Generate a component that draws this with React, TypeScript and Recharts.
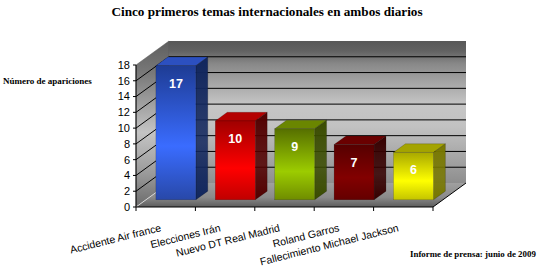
import React from 'react';
import { BarChart, Bar, XAxis, YAxis, ReferenceArea, LabelList } from 'recharts';

const categories = [
  'Accidente Air france',
  'Elecciones Irán',
  'Nuevo DT Real Madrid',
  'Roland Garros',
  'Fallecimiento Michael Jackson',
];
const values = [17, 10, 9, 7, 6];
const yTicks = [0, 2, 4, 6, 8, 10, 12, 14, 16, 18];
const titleText = 'Cinco primeros temas internacionales en ambos diarios';
const yAxisTitle = 'Número de apariciones';
const noteText = 'Informe de prensa: junio de 2009';

// [dark, bright, bottom, side, top]
const barColors = [
  ['#1e3c94', '#3a6cff', '#2848a8', '#12275e', '#2c50c0'],
  ['#a00000', '#ff0000', '#c00000', '#520000', '#b40000'],
  ['#566f00', '#9ccc00', '#6f8c00', '#3a4c00', '#6a8600'],
  ['#560000', '#820000', '#640000', '#360000', '#6a0000'],
  ['#a8a800', '#ffff00', '#c4c400', '#787800', '#a4a400'],
];

const data = categories.map((name, i) => ({ name, value: values[i] }));

const DX = 33;
const DY = 24;
const F0 = 0.3;
const F1 = 0.66;
const SANS = '"Liberation Sans", Arial, sans-serif';
const SERIF = '"Liberation Serif", "Times New Roman", serif';

const WallShape = (props: any) => {
  const { x, y, width: w, height: h } = props;
  const maxV = yTicks[yTicks.length - 1];
  const n = categories.length;
  const grid = yTicks.slice(1, -1).map((t) => y + h - (t / maxV) * h);
  return (
    <g>
      <defs>
        <linearGradient id="backG" x1="0" y1="0" x2="0" y2="1">
          <stop offset="0" stopColor="#585858" />
          <stop offset="0.07" stopColor="#626262" />
          <stop offset="0.16" stopColor="#888" />
          <stop offset="0.45" stopColor="#c6c6c6" />
          <stop offset="0.6" stopColor="#c2c2c2" />
          <stop offset="1" stopColor="#8e8e8e" />
        </linearGradient>
        <linearGradient id="leftG" x1="0" y1="0" x2="0" y2="1">
          <stop offset="0" stopColor="#5e5e5e" />
          <stop offset="0.2" stopColor="#7a7a7a" />
          <stop offset="0.55" stopColor="#c4c4c4" />
          <stop offset="0.8" stopColor="#9a9a9a" />
          <stop offset="1" stopColor="#6a6a6a" />
        </linearGradient>
        <linearGradient id="floorG" x1="0" y1="0" x2="0" y2="1">
          <stop offset="0" stopColor="#a0a0a0" />
          <stop offset="0.6" stopColor="#8a8a8a" />
          <stop offset="1" stopColor="#5c5c5c" />
        </linearGradient>
      </defs>
      <polygon
        points={`${x},${y + h} ${x},${y} ${x + DX},${y - DY} ${x + DX},${y + h - DY}`}
        fill="url(#leftG)"
        stroke="#555"
        strokeWidth={0.5}
      />
      <rect x={x + DX} y={y - DY} width={w} height={h} fill="url(#backG)" />
      {grid.map((gy, i) => (
        <g key={i}>
          <line x1={x + DX} x2={x + DX + w} y1={gy - DY} y2={gy - DY} stroke="#000" strokeWidth={1} />
          <line x1={x} x2={x + DX} y1={gy} y2={gy - DY} stroke="#000" strokeWidth={1} />
        </g>
      ))}
      <polygon
        points={`${x},${y + h} ${x + w},${y + h} ${x + w + DX},${y + h - DY} ${x + DX},${y + h - DY}`}
        fill="url(#floorG)"
      />
      <line x1={x} y1={y + h} x2={x + DX} y2={y + h - DY} stroke="#d8d8d8" strokeWidth={1} />
      <line x1={x + w} y1={y + h} x2={x + w + DX} y2={y + h - DY} stroke="#000" strokeWidth={1} />
      {Array.from({ length: n + 1 }, (_, i) => (
        <line key={i} x1={x + (i * w) / n} x2={x + (i * w) / n} y1={y + h} y2={y + h + 4} stroke="#000" strokeWidth={1} />
      ))}
    </g>
  );
};

const Bar3D = (props: any) => {
  const { x, y, width: w, height: h, index } = props;
  const c = barColors[index % barColors.length];
  const fx = x + F0 * DX;
  const fy = y - F0 * DY;
  const bdx = (F1 - F0) * DX;
  const bdy = (F1 - F0) * DY;
  const gid = `barF${index}`;
  const sid = `barS${index}`;
  return (
    <g>
      <defs>
        <linearGradient id={gid} x1="0" y1="0" x2="0" y2="1">
          <stop offset="0" stopColor={c[0]} />
          <stop offset="0.6" stopColor={c[1]} />
          <stop offset="1" stopColor={c[2]} />
        </linearGradient>
        <linearGradient id={sid} x1="0" y1="0" x2="0" y2="1">
          <stop offset="0" stopColor={c[3]} />
          <stop offset="0.6" stopColor={c[3]} stopOpacity={0.85} />
          <stop offset="1" stopColor={c[3]} />
        </linearGradient>
      </defs>
      <polygon
        points={`${fx},${fy} ${fx + w},${fy} ${fx + w + bdx},${fy - bdy} ${fx + bdx},${fy - bdy}`}
        fill={c[4]}
        stroke="rgba(0,0,0,0.35)"
        strokeWidth={0.5}
      />
      <polygon
        points={`${fx + w},${fy} ${fx + w + bdx},${fy - bdy} ${fx + w + bdx},${fy + h - bdy} ${fx + w},${fy + h}`}
        fill={`url(#${sid})`}
        stroke="rgba(0,0,0,0.35)"
        strokeWidth={0.5}
      />
      <rect x={fx} y={fy} width={w} height={h} fill={`url(#${gid})`} stroke="rgba(0,0,0,0.3)" strokeWidth={0.5} />
    </g>
  );
};

const ValueLabel = (props: any) => {
  const vb = props.viewBox || props;
  const { x, y, width: w } = vb;
  return (
    <text
      x={x + w / 2 + F0 * DX}
      y={y - F0 * DY + 22}
      textAnchor="middle"
      fill="#fff"
      fontFamily={SANS}
      fontWeight="bold"
      fontSize={12.5}
    >
      {props.value}
    </text>
  );
};

const XTick = (props: any) => {
  const { x, y, payload } = props;
  return (
    <g transform={`translate(${x - 4},${y + 24}) rotate(-14)`}>
      <text textAnchor="end" fill="#000" fontFamily={SANS} fontSize={10.5}>
        {payload.value}
      </text>
    </g>
  );
};

export default function App() {
  return (
    <div style={{ position: 'absolute', left: 0, top: 0, width: 557, height: 272, background: '#fff' }}>
      <BarChart
        width={557}
        height={272}
        data={data}
        margin={{ top: 65, right: 124, bottom: 35, left: 96 }}
      >
        <XAxis
          dataKey="name"
          interval={0}
          height={30}
          tickLine={false}
          tickSize={0}
          tickMargin={0}
          axisLine={{ stroke: '#000' }}
          tick={<XTick />}
        />
        <YAxis
          domain={[0, 18]}
          ticks={yTicks}
          interval={0}
          width={40}
          tickSize={3}
          tickMargin={3}
          axisLine={{ stroke: '#000' }}
          tickLine={{ stroke: '#000' }}
          tick={{ fill: '#000', fontSize: 11, fontFamily: SANS }}
        />
        <ReferenceArea y1={0} y2={18} shape={<WallShape />} ifOverflow="visible" />
        <Bar dataKey="value" barSize={40} shape={<Bar3D />} isAnimationActive={false}>
          <LabelList dataKey="value" content={<ValueLabel />} />
        </Bar>
      </BarChart>
      <svg
        width={557}
        height={272}
        style={{ position: 'absolute', left: 0, top: 0, pointerEvents: 'none' }}
      >
        <text x={267} y={16} textAnchor="middle" fontFamily={SERIF} fontWeight="bold" fontSize={13.2} fill="#000">
          {titleText}
        </text>
        <text x={3} y={84} fontFamily={SERIF} fontWeight="bold" fontSize={9} fill="#000">
          {yAxisTitle}
        </text>
        <text x={410} y={257} fontFamily={SERIF} fontWeight="bold" fontSize={8.9} fill="#000">
          {noteText}
        </text>
      </svg>
    </div>
  );
}
